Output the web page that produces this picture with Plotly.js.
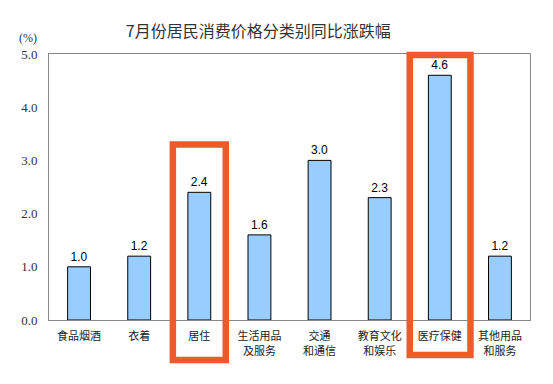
<!DOCTYPE html>
<html>
<head>
<meta charset="utf-8">
<script src="https://cdn.plot.ly/plotly-3.0.1.min.js"></script>
<style>html,body{margin:0;padding:0;background:#fff;}#chart{width:553px;height:384px;}</style>
</head>
<body>
<div id="chart"></div>
<script>
const categories = ['食品烟酒', '衣着', '居住', '生活用品<br>及服务', '交通<br>和通信', '教育文化<br>和娱乐', '医疗保健', '其他用品<br>和服务'];
const values = [1.0, 1.2, 2.4, 1.6, 3.0, 2.3, 4.6, 1.2];
const highlighted = ['居住', '医疗保健'];
const yTicks = [0, 1, 2, 3, 4, 5];

const xIdx = categories.map((c, i) => i);
const nCat = categories.length;
const yMax = 5;

const trace = {
  type: 'bar',
  x: xIdx,
  y: values,
  width: 0.38,
  marker: {color: '#99CCFF', line: {color: '#000000', width: 1}},
  text: values.map(v => v.toFixed(1)),
  textposition: 'outside',
  cliponaxis: false,
  textfont: {family: 'Liberation Sans, Arial', size: 12, color: '#000'},
  hoverinfo: 'none'
};

// highlight frames, given relative to the category slot (in category units / y units)
const boxSpec = {
  '居住': {dx0: -0.44, dx1: 0.44, y0: -0.75, y1: 3.30},
  '医疗保健': {dx0: -0.50, dx1: 0.51, y0: -0.66, y1: 4.98}
};
const shapes = highlighted.map(name => {
  const i = categories.indexOf(name);
  const b = boxSpec[name];
  return {
    type: 'rect', xref: 'paper', yref: 'paper',
    x0: (i + 0.5 + b.dx0) / nCat, x1: (i + 0.5 + b.dx1) / nCat,
    y0: b.y0 / yMax, y1: b.y1 / yMax,
    line: {color: '#EE5A2B', width: 6.5},
    fillcolor: 'rgba(0,0,0,0)',
    layer: 'above'
  };
});

const layout = {
  width: 553, height: 384,
  margin: {l: 48.5, r: 23, t: 53.5, b: 64},
  paper_bgcolor: '#fff', plot_bgcolor: '#fff',
  showlegend: false,
  title: {
    text: '7月份居民消费价格分类别同比涨跌幅',
    font: {family: 'Noto Sans CJK SC', size: 16, color: '#333'},
    x: 0.467, xanchor: 'center', xref: 'container',
    y: 0.917, yanchor: 'middle', yref: 'container'
  },
  xaxis: {
    range: [-0.5, nCat - 0.5],
    tickvals: xIdx,
    ticktext: categories,
    tickfont: {family: 'Noto Sans CJK SC', size: 11, color: '#222'},
    ticklabelstandoff: 6,
    showline: true, linecolor: '#888', linewidth: 1, mirror: true,
    showgrid: false, zeroline: false, ticks: '', fixedrange: true
  },
  yaxis: {
    range: [0, yMax],
    tickvals: yTicks,
    ticktext: yTicks.map(v => v.toFixed(1)),
    tickfont: {family: 'Liberation Serif, Times New Roman', size: 13, color: '#333'},
    ticklabelstandoff: 8,
    showline: true, linecolor: '#888', linewidth: 1, mirror: true,
    showgrid: false, zeroline: false, ticks: '', ticklen: 0,
    fixedrange: true
  },
  shapes: shapes,
  annotations: [{
    text: '(%)', xref: 'paper', yref: 'paper', x: -0.043, y: 1.062,
    xanchor: 'center', yanchor: 'middle', showarrow: false,
    font: {family: 'Liberation Serif, Times New Roman', size: 12, color: '#333'}
  }]
};

Plotly.newPlot('chart', [trace], layout, {displayModeBar: false, staticPlot: true});
</script>
</body>
</html>
